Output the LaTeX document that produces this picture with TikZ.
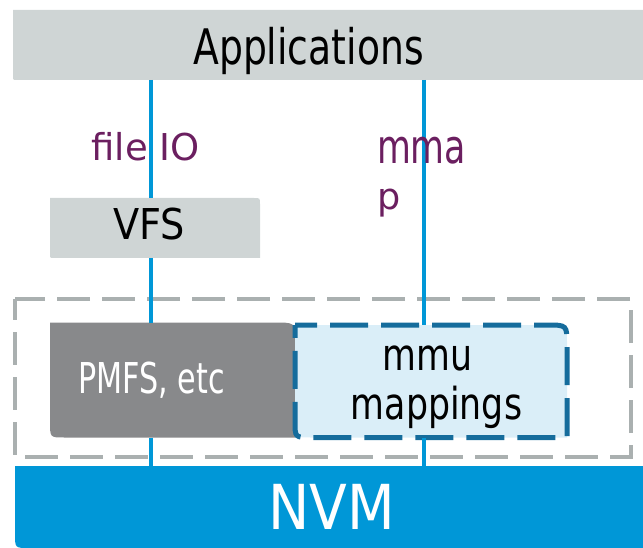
\documentclass[tikz,border=0pt]{standalone}
\usepackage{fontspec}
\setmainfont{DejaVu Sans}
\newfontfamily\appsfont{DejaVu Sans}[FakeStretch=0.77]
\newfontfamily\vfsfont{DejaVu Sans}[FakeStretch=0.90]
\newfontfamily\pmfsfont{DejaVu Sans}[FakeStretch=0.71]
\newfontfamily\mmufont{DejaVu Sans}[FakeStretch=0.79]
\newfontfamily\nvmfont{DejaVu Sans}[FakeStretch=0.89]
\newfontfamily\mmapfont{DejaVu Sans}[FakeStretch=0.74]
\usetikzlibrary{calc}
\pgfdeclarelayer{background}
\pgfsetlayers{background,main}

\definecolor{appgray}{HTML}{CFD5D5}
\definecolor{dashgray}{HTML}{AAB0B0}
\definecolor{pmfsgray}{HTML}{88898B}
\definecolor{mmufill}{HTML}{DAEEF8}
\definecolor{mmuedge}{HTML}{156C9C}
\definecolor{nvmblue}{HTML}{0097D7}
\definecolor{apipurple}{HTML}{6B1F60}

\tikzset{
  area/.style={rectangle, inner sep=0pt, outer sep=0pt},
  caption/.style={inner sep=0pt, outer sep=0pt, anchor=base},
  link/.style={draw=nvmblue, line width=4pt},
  apilabel/.style={caption, text=apipurple},
}

\begin{document}
\begin{tikzpicture}[x=1pt,y=-1pt]
\useasboundingbox (0,0) rectangle (643,548);

% layer boxes
\node[area, minimum width=630pt, minimum height=70pt] (apps) at (328,45) {};
\node[area, minimum width=210pt, minimum height=60pt] (vfs) at (155,228) {};
\node[area, minimum width=616pt, minimum height=158pt] (kernel) at (323,378) {};
\node[area, minimum width=245pt, minimum height=115pt] (pmfs) at (172.5,380) {};
\node[area, minimum width=272pt, minimum height=112.5pt] (mmu) at (431,381.25) {};
\node[area, minimum width=628pt, minimum height=82pt] (nvm) at (329,507) {};

% box texts
\node[caption, font=\appsfont\fontsize{49}{52}\selectfont] (appstext) at (308.5,64.3) {Applications};
\node[caption, font=\vfsfont\fontsize{42.5}{46}\selectfont] (vfstext) at (149,240) {VFS};
\node[caption, font=\pmfsfont\fontsize{42.5}{46}\selectfont, text=white] (pmfstext) at (151.5,393) {PMFS, etc};
\node[caption, font=\mmufont\fontsize{44}{48}\selectfont] (mmutext) at (427.5,370.7) {mmu};
\node[caption, font=\mmufont\fontsize{44}{48}\selectfont] (maptext) at (436.5,419.3) {mappings};
\node[caption, font=\nvmfont\fontsize{62}{66}\selectfont, text=white] (nvmtext) at (332,529) {NVM};

% box outlines and fills
\begin{pgfonlayer}{background}
  \fill[appgray] (apps.north west) -- (apps.north east) -- (apps.south east)
    -- ($(apps.south west)+(4,0)$) .. controls (apps.south west) .. ($(apps.south west)+(0,-4)$) -- cycle;
  \fill[appgray] (vfs.north west) -- ($(vfs.north east)+(-6,0)$) .. controls (vfs.north east) .. ($(vfs.north east)+(0,6)$)
    -- (vfs.south east) -- ($(vfs.south west)+(4,0)$) .. controls (vfs.south west) .. ($(vfs.south west)+(0,-4)$) -- cycle;
  \fill[nvmblue] (nvm.north west) -- (nvm.north east) -- (nvm.south east)
    -- ($(nvm.south west)+(14,0)$) .. controls (nvm.south west) .. ($(nvm.south west)+(0,-14)$) -- cycle;
  \draw[dashgray, line width=3.5pt, dash pattern=on 33pt off 12pt, dash phase=12pt]
    (kernel.north west) rectangle (kernel.south east);
  \fill[pmfsgray] (pmfs.north west) -- ($(pmfs.north east)+(-22,0)$) .. controls (pmfs.north east) .. ($(pmfs.north east)+(0,16)$)
    -- (pmfs.south east) -- ($(pmfs.south west)+(14,0)$) .. controls (pmfs.south west) .. ($(pmfs.south west)+(0,-16)$) -- cycle;
  \fill[mmufill] (mmu.north west) -- ($(mmu.north east)+(-20,0)$) .. controls (mmu.north east) .. ($(mmu.north east)+(0,20)$)
    -- (mmu.south east) -- ($(mmu.south west)+(16,0)$) .. controls (mmu.south west) .. ($(mmu.south west)+(0,-16)$) -- cycle;
  \draw[mmuedge, line width=5pt, dash pattern=on 38pt off 13pt, dash phase=16pt]
    (mmu.north west) -- ($(mmu.north east)+(-20,0)$) .. controls (mmu.north east) .. ($(mmu.north east)+(0,20)$)
    -- (mmu.south east) -- ($(mmu.south west)+(16,0)$) .. controls (mmu.south west) .. ($(mmu.south west)+(0,-16)$) -- cycle;
\end{pgfonlayer}

% access paths
\coordinate (fx) at (151,0);
\coordinate (mx) at (424,0);
\draw[link] (apps.south -| fx) -- (vfs.north -| fx);
\draw[link] (vfs.south -| fx) -- (pmfs.north -| fx);
\draw[link] (pmfs.south -| fx) -- (nvm.north -| fx);
\draw[link] (apps.south -| mx) -- (mmu.north -| mx);
\draw[link] (mmu.south -| mx) -- (nvm.north -| mx);

% path labels
\node[apilabel, font=\fontsize{37}{40}\selectfont] (fileio) at (145.5,161) {file IO};
\node[apilabel, anchor=base west, font=\mmapfont\fontsize{47}{50}\selectfont] (mmapa) at (377,163.3) {mma};
\node[apilabel, anchor=base west, font=\fontsize{36.6}{40}\selectfont] (mmapb) at (377,210) {p};
\end{tikzpicture}
\end{document}
